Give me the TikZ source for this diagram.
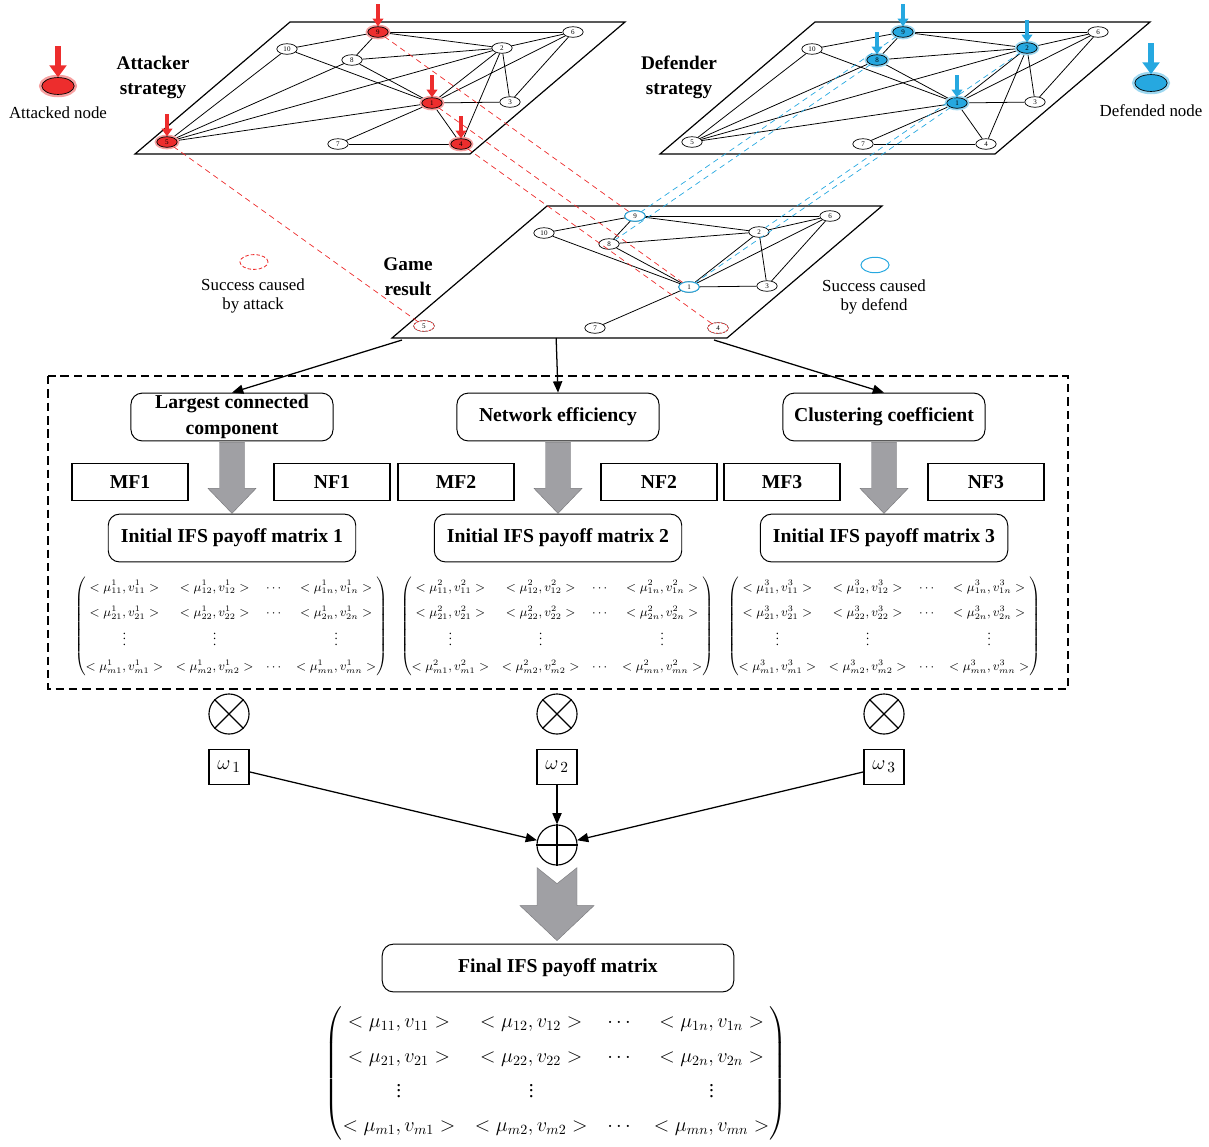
\documentclass[tikz,border=0pt]{standalone}
\usepackage{fontspec}
\setmainfont{Liberation Serif}
\usepackage{amsmath}
\usetikzlibrary{arrows.meta,calc,shapes.geometric}

\definecolor{attred}{RGB}{237,45,45}
\definecolor{defblue}{RGB}{38,168,224}
\definecolor{arrgray}{RGB}{160,160,164}

% one network plane with its ten nodes, #1 = prefix of the node names
\newcommand{\netnodes}[1]{%
  \draw[plane] (135,154) coordinate (#1BL) -- (290,22) -- (625,22)
     -- (470,154) coordinate (#1BR) -- cycle;
  \foreach \n/\x/\y in {1/432/103,2/502/48,3/510/102,4/461/144,5/167/142,
      6/573/32,7/338/144,8/352/60,9/378/32,10/287/49}
    \node[netnode] (#1\n) at (\x,\y) {\n};
}
\newcommand{\netedges}[2]{%
  \foreach \s/\t in #2
    \draw[netedge] (#1\s) -- (#1\t);
}
\newcommand{\fulllist}{9/6,9/2,9/10,9/8,10/1,10/5,8/2,8/1,8/5,2/6,2/5,2/1,2/4,2/3,6/1,6/3,1/3,1/5,1/7,1/4,7/4}
\newcommand{\gamelist}{9/6,9/2,9/10,9/8,10/1,8/2,8/1,2/6,2/1,2/3,6/1,6/3,1/3,1/7}

\newcommand{\ifsmat}[1]{%
  \setlength{\arraycolsep}{4.5pt}\renewcommand{\arraystretch}{1.65}%
  $\begin{pmatrix}
  <\mu^{#1}_{11},v^{#1}_{11}> & <\mu^{#1}_{12},v^{#1}_{12}> & \cdots & <\mu^{#1}_{1n},v^{#1}_{1n}>\\
  <\mu^{#1}_{21},v^{#1}_{21}> & <\mu^{#1}_{22},v^{#1}_{22}> & \cdots & <\mu^{#1}_{2n},v^{#1}_{2n}>\\
  \vdots & \vdots & & \vdots\\
  <\mu^{#1}_{m1},v^{#1}_{m1}> & <\mu^{#1}_{m2},v^{#1}_{m2}> & \cdots & <\mu^{#1}_{mn},v^{#1}_{mn}>
  \end{pmatrix}$}

\begin{document}
\begin{tikzpicture}[x=0.025cm,y=-0.025cm,
    plane/.style={line width=0.85pt},
    netedge/.style={line width=0.55pt},
    netnode/.style={ellipse,draw,fill=white,line width=0.5pt,inner sep=0pt,
        minimum width=14.5pt,minimum height=7.5pt,font=\fontsize{5}{5}\selectfont},
    attnode/.style={netnode,fill=attred,preaction={draw=attred!45,line width=3pt}},
    defnode/.style={netnode,fill=defblue,preaction={draw=defblue!45,line width=3pt}},
    attarrow/.style={draw=attred,line width=2.4pt,-{Triangle[width=7.5pt,length=5.5pt]}},
    defarrow/.style={draw=defblue,line width=2.4pt,-{Triangle[width=7.5pt,length=5.5pt]}},
    attlink/.style={draw=attred,line width=0.5pt,dash pattern=on 4pt off 3pt},
    deflink/.style={draw=defblue,line width=0.5pt,dash pattern=on 4pt off 3pt},
    title/.style={font=\fontsize{13.7}{17.8}\selectfont\bfseries,align=center},
    legend/.style={font=\fontsize{12}{13.5}\selectfont,align=center},
    metric/.style={draw,rounded corners=8pt,line width=0.7pt,minimum width=143.7pt,
        minimum height=34pt,inner sep=0pt,align=center,
        font=\fontsize{14}{18.5}\selectfont\bfseries},
    payoff/.style={metric,minimum width=176pt},
    factor/.style={draw,line width=0.8pt,minimum width=82.5pt,minimum height=26.3pt,
        font=\fontsize{14}{14}\selectfont\bfseries},
    mul/.style={circle,draw,line width=0.8pt,minimum size=28.5pt,inner sep=0pt},
    weight/.style={draw,line width=0.8pt,minimum width=28.5pt,minimum height=25pt,
        inner sep=0pt,font=\fontsize{15}{15}\selectfont},
    flow/.style={line width=0.9pt,-{Triangle[width=6.5pt,length=8pt]}},
    blockarrow/.style={fill=arrgray,draw=arrgray!75!black,line width=0.3pt}]
\useasboundingbox (0,0) rectangle (1209,1146);

% attacker network
\netnodes{a}
\netedges{a}{\fulllist}
\foreach \n in {9,1,5,4} {
  \node[attnode] (a\n) at (a\n) {\n};
  \draw[attarrow] ($(a\n.north)+(0,-22)$) -- (a\n.north);
}

% defender network
\begin{scope}[shift={(525,0)}]
\netnodes{d}
\netedges{d}{\fulllist}
\end{scope}
\foreach \n in {9,8,2,1} {
  \node[defnode] (d\n) at (d\n) {\n};
  \draw[defarrow] ($(d\n.north)+(0,-22)$) -- (d\n.north);
}

% game result
\begin{scope}[shift={(257,184)}]
\netnodes{g}
\netedges{g}{\gamelist}
\end{scope}
\foreach \n in {5,4}
  \node[netnode,draw=attred,dash pattern=on 1.5pt off 1pt] (g\n) at (g\n) {\n};
\foreach \n in {9,1}
  \node[netnode,draw=defblue,line width=0.7pt] (g\n) at (g\n) {\n};

\foreach \n in {5,9,1,4}
  \draw[attlink] (a\n) -- (g\n);
\foreach \n in {9,8,2,1}
  \draw[deflink] (d\n) -- (g\n);

% labels and keys
\node[title] (attlbl) at (153,77) {Attacker\\strategy};
\node[title] (deflbl) at (679,77) {Defender\\strategy};
\node[title] (gamelbl) at (408,277) {Game\\result};

\node[attnode,minimum width=23pt,minimum height=12pt,
      preaction={draw=attred!45,line width=4pt}] (attkey) at (58,86) {};
\draw[attarrow,line width=4pt,-{Triangle[width=12pt,length=8.5pt]}]
  ($(attkey.north)+(0,-31)$) -- (attkey.north);
\node[legend] (attkeylbl) at (58,113) {Attacked node};

\node[defnode,minimum width=23pt,minimum height=12pt,
      preaction={draw=defblue!45,line width=4pt}] (defkey) at (1151,83) {};
\draw[defarrow,line width=4pt,-{Triangle[width=12pt,length=8.5pt]}]
  ($(defkey.north)+(0,-31)$) -- (defkey.north);
\node[legend] (defkeylbl) at (1151,111) {Defended node};

\node[ellipse,draw=attred,line width=0.6pt,dash pattern=on 2.5pt off 1.5pt,
      minimum width=20pt,minimum height=10.5pt] (atkok) at (254,262) {};
\node[legend] (atkoklbl) at (253,296) {Success caused\\by attack};
\node[ellipse,draw=defblue,line width=0.7pt,
      minimum width=20pt,minimum height=11pt] (defok) at (875,265) {};
\node[legend] (defoklbl) at (874,297) {Success caused\\by defend};

% evaluation frame
\draw[line width=0.8pt,dash pattern=on 6pt off 3.5pt] (48,376) rectangle (1068,689);

\node[metric] (lcc) at (232,417) {Largest connected\\component};
\node[metric] (ne) at (558,417) {Network efficiency};
\node[metric] (cc) at (884,417) {Clustering coefficient};

\draw[flow] ($(gBL)+(10,2)$) -- (lcc.north);
\draw[flow] ($(gBL)!0.49!(gBR)$) -- (ne.north);
\draw[flow] ($(gBR)+(-13,2)$) -- (cc.north);

\node[factor] (mf1) at (130,482) {MF1};
\node[factor] (nf1) at (332,482) {NF1};
\node[factor] (mf2) at (456,482) {MF2};
\node[factor] (nf2) at (659,482) {NF2};
\node[factor] (mf3) at (782,482) {MF3};
\node[factor] (nf3) at (986,482) {NF3};

\foreach \m in {lcc,ne,cc}
  \draw[blockarrow] (\m.south) ++(-12.5,1) -- ++(25,0) -- ++(0,46) -- ++(11.5,0)
    -- ++(-24,25) -- ++(-24,-25) -- ++(11.5,0) -- cycle;

\node[payoff] (ini1) at (232,538) {Initial IFS payoff matrix 1};
\node[payoff] (ini2) at (558,538) {Initial IFS payoff matrix 2};
\node[payoff] (ini3) at (884,538) {Initial IFS payoff matrix 3};

\foreach \k/\x in {1/231,2/557,3/884}
  \node[font=\fontsize{9}{11}\selectfont,inner sep=0pt] (mat\k) at (\x,626) {\ifsmat{\k}};

% weighting and sum
\foreach \k/\x in {1/229,2/557,3/884} {
  \node[mul] (x\k) at (\x,714) {};
  \draw[line width=0.8pt] (x\k.north west) -- (x\k.south east)
    (x\k.north east) -- (x\k.south west);
  \node[weight] (w\k) at (\x,767) {$\omega_{\,\k}$};
}
\node[mul] (sum) at (557,845) {};
\draw[line width=0.8pt] (sum.north) -- (sum.south) (sum.west) -- (sum.east);

\draw[flow] (w1) -- (sum);
\draw[flow] (w2) -- (sum);
\draw[flow] (w3) -- (sum);

\draw[blockarrow] (sum.south) ++(-20,2) -- ++(20,16) -- ++(20,-16) -- ++(0,38)
  -- ++(17,0) -- ++(-37,35) -- ++(-37,-35) -- ++(17,0) -- cycle;

\node[payoff,minimum width=250pt] (final) at (558,968) {Final IFS payoff matrix};
\node[font=\fontsize{14}{17}\selectfont,inner sep=0pt] (finmat) at (556,1073) {%
  \setlength{\arraycolsep}{7pt}\renewcommand{\arraystretch}{1.45}%
  $\begin{pmatrix}
  <\mu_{11},v_{11}> & <\mu_{12},v_{12}> & \cdots & <\mu_{1n},v_{1n}>\\
  <\mu_{21},v_{21}> & <\mu_{22},v_{22}> & \cdots & <\mu_{2n},v_{2n}>\\
  \vdots & \vdots & & \vdots\\
  <\mu_{m1},v_{m1}> & <\mu_{m2},v_{m2}> & \cdots & <\mu_{mn},v_{mn}>
  \end{pmatrix}$};
\end{tikzpicture}
\end{document}
